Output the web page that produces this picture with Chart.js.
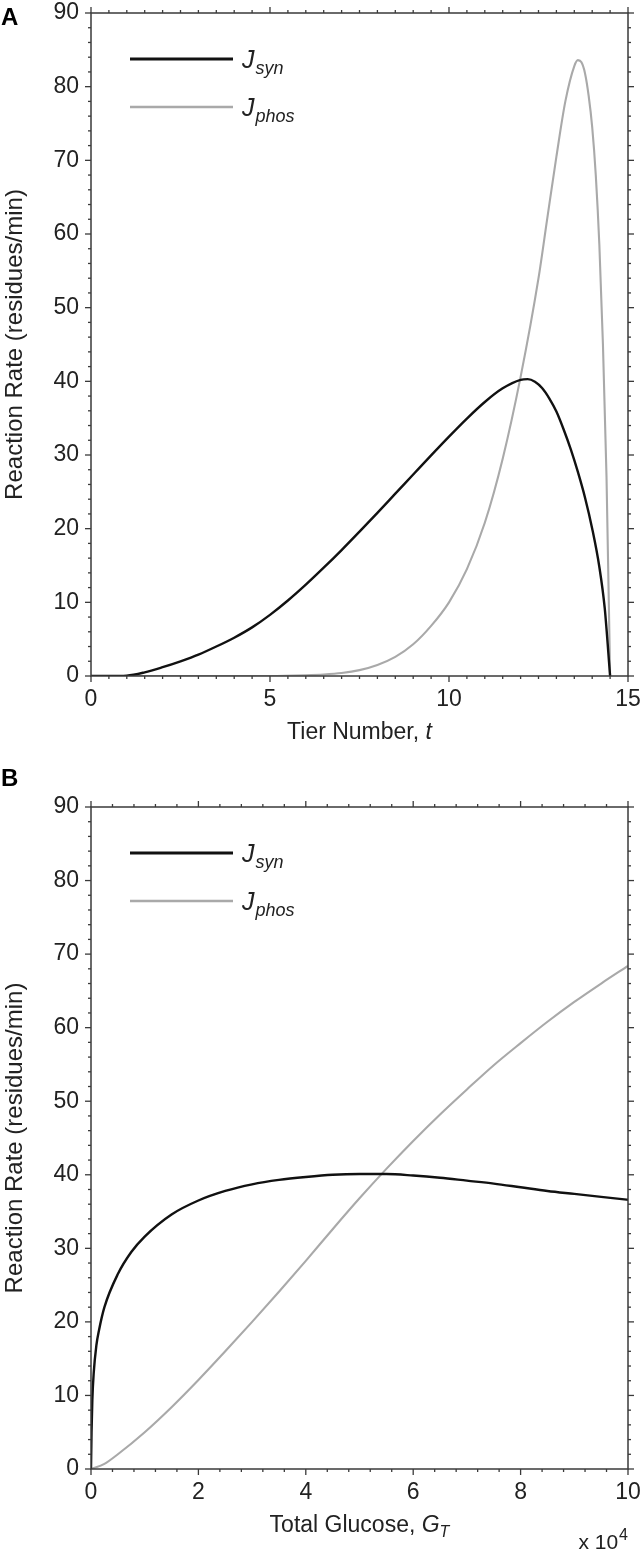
<!DOCTYPE html>
<html>
<head>
<meta charset="utf-8">
<script src="https://cdn.jsdelivr.net/npm/chart.js@4"></script>
<style>
  html, body { margin: 0; padding: 0; background: #fff; }
  body { width: 643px; height: 1559px; position: relative; overflow: hidden; }
  .panel { position: absolute; left: 0; width: 643px; }
  #pa { top: 0; height: 760px; }
  #pb { top: 760px; height: 799px; }
</style>
</head>
<body>
<div class="panel" id="pa"><canvas id="ca"></canvas></div>
<div class="panel" id="pb"><canvas id="cb"></canvas></div>
<script>
// ---------- Panel A data: reaction rate vs tier number ----------
const tierSynA = [0, 0.5, 1, 1.5, 2, 2.5, 3, 3.5, 4, 4.5, 5, 5.5, 6, 6.5, 7, 7.5, 8, 8.5, 9, 9.5, 10, 10.5, 11, 11.5, 12, 12.2, 12.4, 12.6, 12.8, 13, 13.2, 13.4, 13.6, 13.8, 14, 14.2, 14.35, 14.5];
const jsynA    = [0, 0, 0.05, 0.5, 1.2, 2.0, 2.9, 4.0, 5.2, 6.6, 8.3, 10.25, 12.4, 14.7, 17.1, 19.6, 22.15, 24.75, 27.35, 29.95, 32.5, 34.95, 37.2, 39.05, 40.2, 40.3, 39.95, 39.1, 37.7, 35.9, 33.5, 30.8, 27.7, 24.2, 20.0, 14.8, 9.2, 0];
const tierPhosA = [0, 2, 4, 5, 6, 6.5, 7, 7.5, 8, 8.5, 9, 9.5, 10, 10.5, 11, 11.5, 12, 12.5, 12.75, 13, 13.25, 13.5, 13.6, 13.7, 13.8, 13.9, 14, 14.1, 14.2, 14.3, 14.4, 14.5];
const jphosA    = [0, 0, 0, 0, 0.1, 0.2, 0.4, 0.8, 1.5, 2.6, 4.3, 6.8, 10.0, 14.5, 20.8, 29.5, 40.6, 54.0, 62.3, 70.5, 78.0, 82.8, 83.6, 83.3, 81.8, 78.8, 74.5, 68.0, 58.5, 45.0, 27.0, 0];

// ---------- Panel B data: reaction rate vs total glucose (x 10^4) ----------
const glucoseSynB = [0, 0.01, 0.025, 0.05, 0.1, 0.15, 0.25, 0.5, 0.75, 1, 1.5, 2, 2.5, 3, 3.5, 4, 4.5, 5, 5.5, 6, 6.5, 7, 7.5, 8, 8.5, 9, 9.5, 10];
const jsynB       = [0, 5.0, 9.4, 13.0, 16.8, 18.9, 22.0, 26.5, 29.5, 31.6, 34.6, 36.5, 37.8, 38.7, 39.3, 39.7, 40.0, 40.1, 40.1, 39.9, 39.6, 39.2, 38.8, 38.3, 37.8, 37.4, 37.0, 36.6];
const glucosePhosB = [0, 0.25, 0.5, 1, 1.5, 2, 2.5, 3, 3.5, 4, 4.5, 5, 5.5, 6, 6.5, 7, 7.5, 8, 8.5, 9, 9.5, 10];
const jphosB       = [0, 0.7, 2.0, 5.0, 8.4, 12.1, 16.0, 20.0, 24.1, 28.3, 32.6, 36.8, 40.8, 44.6, 48.2, 51.6, 54.9, 57.9, 60.8, 63.5, 66.0, 68.4];

// ---------- Axis tick definitions ----------
const yTicksMax = 90, yMajorStep = 10, yMinorStep = 2;
const xMaxA = 15, xMajorStepA = 5, xMinorStepA = 0.5;
const xMaxB = 10, xMajorStepB = 2, xMinorStepB = 0.4;

const FONT = "'Liberation Sans', Arial, Helvetica, sans-serif";
const FS = 23;
const INK = '#222';
const BLACK = '#111';
const GRAY = '#a9a9a9';

function pts(xs, ys) { return xs.map((x, i) => ({ x: x, y: ys[i] })); }

// draws the frame, outward tick marks, legend, panel letter and x-axis title
const decor = {
  id: 'decor',
  afterDraw(chart, args, o) {
    const { ctx, chartArea: a, scales: { x, y } } = chart;
    ctx.save();
    ctx.strokeStyle = '#3a3a3a';
    ctx.lineWidth = 1.5;
    ctx.strokeRect(a.left, a.top, a.right - a.left, a.bottom - a.top);
    ctx.lineWidth = 1.3;
    const seg = (x1, y1, x2, y2) => { ctx.beginPath(); ctx.moveTo(x1, y1); ctx.lineTo(x2, y2); ctx.stroke(); };
    const nx = Math.round((x.max - x.min) / o.xMinor);
    const per = Math.round(o.xMajor / o.xMinor);
    for (let i = 0; i <= nx; i++) {
      const px = x.getPixelForValue(x.min + i * o.xMinor);
      const L = (i % per === 0) ? 6 : 3;
      seg(px, a.bottom, px, a.bottom + L);
      seg(px, a.top, px, a.top - L);
    }
    const ny = Math.round((y.max - y.min) / o.yMinor);
    const pery = Math.round(o.yMajor / o.yMinor);
    for (let i = 0; i <= ny; i++) {
      const py = y.getPixelForValue(y.min + i * o.yMinor);
      const L = (i % pery === 0) ? 6 : 3;
      seg(a.left, py, a.left - L, py);
      seg(a.right, py, a.right + L, py);
    }
    // legend
    chart.data.datasets.forEach((ds, i) => {
      const ly = a.top + 46 + i * 48;
      ctx.strokeStyle = ds.borderColor;
      ctx.lineWidth = ds.borderWidth + 0.4;
      seg(a.left + 39, ly, a.left + 142, ly);
      ctx.fillStyle = INK;
      ctx.textBaseline = 'alphabetic';
      ctx.textAlign = 'left';
      ctx.font = 'italic 25px ' + FONT;
      ctx.fillText(ds.sym, a.left + 151, ly + 9);
      const w = ctx.measureText(ds.sym).width;
      ctx.font = 'italic 18px ' + FONT;
      ctx.fillText(ds.sub, a.left + 151 + w + 1, ly + 15);
    });
    // panel letter
    ctx.fillStyle = '#000';
    ctx.font = 'bold 24px ' + FONT;
    ctx.textAlign = 'left';
    ctx.textBaseline = 'middle';
    ctx.fillText(o.letter, 1, o.letterY);
    // x title (mixed upright / italic)
    ctx.fillStyle = INK;
    ctx.textBaseline = 'alphabetic';
    const parts = o.xTitle;
    let total = 0;
    parts.forEach(p => { ctx.font = (p.it ? 'italic ' : '') + p.size + 'px ' + FONT; total += ctx.measureText(p.t).width; });
    let cx = (a.left + a.right) / 2 - total / 2;
    const base = a.bottom + o.xTitleOffset;
    parts.forEach(p => {
      ctx.font = (p.it ? 'italic ' : '') + p.size + 'px ' + FONT;
      ctx.fillText(p.t, cx, base + (p.dy || 0));
      cx += ctx.measureText(p.t).width;
    });
    if (o.multiplier) {
      const sup = '4';
      ctx.font = '16px ' + FONT;
      const ws = ctx.measureText(sup).width;
      ctx.textAlign = 'right';
      ctx.fillText(sup, a.right, a.bottom + o.multY - 9);
      ctx.font = '21px ' + FONT;
      ctx.fillText('x 10', a.right - ws - 1, a.bottom + o.multY);
    }
    ctx.restore();
  }
};

function makeChart(canvasId, datasets, xMax, xMajor, xMinor, xHeight, deco) {
  return new Chart(document.getElementById(canvasId), {
    type: 'line',
    data: { datasets: datasets },
    plugins: [decor],
    options: {
      responsive: true,
      maintainAspectRatio: false,
      animation: false,
      parsing: false,
      layout: { padding: { left: 0, right: 15, top: deco.padTop, bottom: 0 } },
      elements: { point: { radius: 0 }, line: { cubicInterpolationMode: 'monotone' } },
      plugins: { legend: { display: false }, tooltip: { enabled: false }, decor: deco },
      scales: {
        x: {
          type: 'linear', min: 0, max: xMax,
          grid: { display: false, drawTicks: false }, border: { display: false },
          ticks: { stepSize: xMajor, padding: 10, color: INK, font: { family: FONT, size: FS }, maxRotation: 0 },
          afterFit: s => { s.height = xHeight; s.paddingLeft = 0; s.paddingRight = 0; }
        },
        y: {
          min: 0, max: yTicksMax,
          grid: { display: false, drawTicks: false }, border: { display: false },
          ticks: { stepSize: yMajorStep, padding: 12, color: INK, font: { family: FONT, size: FS } },
          title: { display: true, text: 'Reaction Rate (residues/min)', color: INK, font: { family: FONT, size: 24 }, padding: { top: 1, bottom: 0 } },
          afterFit: s => { s.width = 91; s.paddingTop = 0; s.paddingBottom = 0; }
        }
      }
    }
  });
}

makeChart('ca', [
  { label: 'J_syn', sym: 'J', sub: 'syn', data: pts(tierSynA, jsynA), borderColor: BLACK, borderWidth: 2.4, fill: false },
  { label: 'J_phos', sym: 'J', sub: 'phos', data: pts(tierPhosA, jphosA), borderColor: GRAY, borderWidth: 2.1, fill: false }
], xMaxA, xMajorStepA, xMinorStepA, 84, {
  padTop: 13, xMinor: xMinorStepA, xMajor: xMajorStepA, yMinor: yMinorStep, yMajor: yMajorStep,
  letter: 'A', letterY: 18, xTitleOffset: 63,
  xTitle: [{ t: 'Tier Number, ', size: FS }, { t: 't', size: FS, it: true }]
});

makeChart('cb', [
  { label: 'J_syn', sym: 'J', sub: 'syn', data: pts(glucoseSynB, jsynB), borderColor: BLACK, borderWidth: 2.4, fill: false },
  { label: 'J_phos', sym: 'J', sub: 'phos', data: pts(glucosePhosB, jphosB), borderColor: GRAY, borderWidth: 2.1, fill: false }
], xMaxB, xMajorStepB, xMinorStepB, 90, {
  padTop: 47, xMinor: xMinorStepB, xMajor: xMajorStepB, yMinor: yMinorStep, yMajor: yMajorStep,
  letter: 'B', letterY: 19, xTitleOffset: 63, multiplier: true, multY: 80,
  xTitle: [{ t: 'Total Glucose, ', size: FS }, { t: 'G', size: FS, it: true }, { t: 'T', size: 16, it: true, dy: 5 }]
});
</script>
</body>
</html>
